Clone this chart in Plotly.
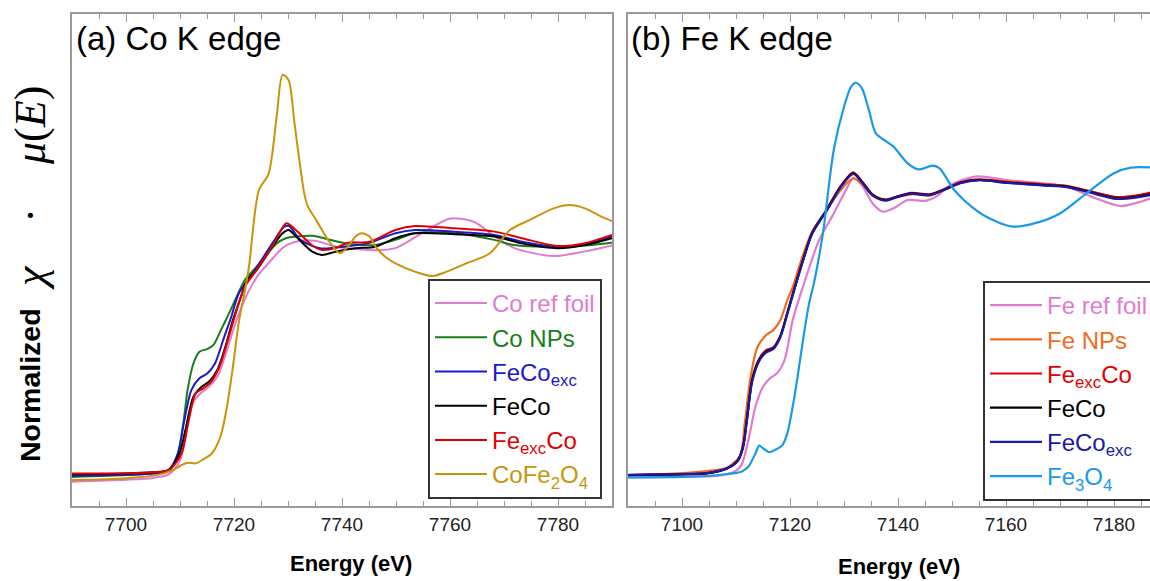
import plotly.graph_objects as go

# ---------------- (a) Co K edge ----------------
co_ref_E = [7690, 7700, 7705, 7708, 7710, 7711, 7712.5, 7714, 7715.4, 7717, 7718.7, 7720.5, 7722.7, 7724.5,
            7726.4, 7729.3, 7732.3, 7735, 7739, 7746, 7750, 7755.7, 7760.1, 7764.5, 7768.2, 7771.8, 7779.2, 7785, 7790]
co_ref_mu = [-0.02, -0.012, -0.004, 0.012, 0.07, 0.18, 0.32, 0.36, 0.385, 0.43, 0.54, 0.67, 0.79, 0.86,
             0.91, 0.98, 1.005, 1.005, 0.98, 0.965, 0.975, 1.05, 1.10, 1.085, 1.025, 0.975, 0.94, 0.96, 0.985]

co_np_E = [7690, 7700, 7705, 7707, 7708.1, 7709.6, 7710.7, 7711.4, 7712.5, 7713.6, 7715.1, 7716.2, 7717.6, 7719.1,
           7720.5, 7722, 7724.2, 7727.9, 7729.5, 7732, 7734.5, 7738.9, 7742, 7746.2, 7750, 7753.5, 7760.8, 7768.2,
           7771.8, 7779.2, 7785, 7790]
co_np_mu = [0.0, 0.008, 0.015, 0.022, 0.035, 0.10, 0.243, 0.37, 0.484, 0.533, 0.545, 0.562, 0.626, 0.697,
            0.767, 0.838, 0.895, 0.994, 1.015, 1.024, 1.026, 1.003, 0.99, 0.987, 1.01, 1.037, 1.037, 1.009,
            0.987, 0.98, 0.985, 0.997]

feco_exc_a_E = [7690, 7700, 7705, 7708, 7709.6, 7710.7, 7712.1, 7713.6, 7715.1, 7716.5, 7718, 7719.5, 7720.9,
                7723.5, 7727.1, 7729.3, 7730.2, 7732.3, 7735.9, 7740.3, 7744.7, 7749.9, 7753.5, 7760.8, 7768.2,
                7773.3, 7779.9, 7785, 7790]
feco_exc_a_mu = [0.005, 0.01, 0.015, 0.03, 0.10, 0.228, 0.37, 0.42, 0.441, 0.484, 0.583, 0.682, 0.782,
                 0.867, 0.994, 1.065, 1.068, 1.009, 0.973, 0.98, 0.994, 1.037, 1.051, 1.044, 1.03,
                 1.001, 0.98, 0.99, 1.023]

feco_a_E = [7690, 7700, 7705, 7708, 7709.9, 7711, 7712.5, 7714, 7715.4, 7716.9, 7718.4, 7719.8, 7721.3, 7722.4,
            7724.2, 7727.1, 7729, 7730.1, 7731.5, 7734.5, 7736.3, 7738.9, 7742.5, 7746.2, 7749.9, 7753.5, 7760.8,
            7768.2, 7773.3, 7779.9, 7785, 7790]
feco_a_mu = [0.012, 0.015, 0.02, 0.03, 0.10, 0.2, 0.342, 0.384, 0.406, 0.455, 0.554, 0.668, 0.767, 0.838,
             0.881, 0.98, 1.037, 1.051, 1.023, 0.959, 0.945, 0.959, 0.973, 0.98, 1.016, 1.037, 1.033,
             1.023, 0.994, 0.973, 0.987, 1.016]

fe_exc_co_a_E = [7690, 7700, 7705, 7708, 7710.3, 7711.4, 7712.9, 7714.3, 7715.8, 7717.3, 7718.7, 7720.5, 7722,
                 7724, 7727.3, 7729.7, 7731.5, 7734.5, 7736.3, 7738.9, 7741.1, 7745, 7749.9, 7753.5, 7760.8,
                 7768.2, 7773.3, 7779.9, 7785, 7790]
fe_exc_co_a_mu = [0.015, 0.016, 0.02, 0.03, 0.10, 0.214, 0.356, 0.377, 0.406, 0.469, 0.569, 0.711, 0.81,
                  0.875, 0.99, 1.08, 1.05, 0.985, 0.966, 0.975, 0.997, 1.0, 1.051, 1.068, 1.058,
                  1.044, 1.016, 0.983, 0.995, 1.03]

cofe2o4_E = [7690, 7700, 7705.9, 7708.8, 7710.3, 7711.4, 7712.9, 7714.3, 7715.8, 7716.5, 7717.6, 7718.7, 7719.8,
             7720.9, 7722, 7722.8, 7724.6, 7726.4, 7727.9, 7729.0, 7730.1, 7731.2, 7733.0, 7733.7, 7735.2, 7737.4,
             7739.6, 7741.1, 7742.5, 7743.6, 7745.1, 7746.2, 7748.0, 7749.9, 7753.5, 7756.8, 7759.4, 7763.0,
             7767.4, 7771.1, 7774.8, 7779.2, 7782.1, 7785.0, 7788.0, 7790]
cofe2o4_mu = [-0.013, -0.005, 0.009, 0.03, 0.051, 0.061, 0.058, 0.075, 0.098, 0.12, 0.18, 0.30, 0.47,
              0.66, 0.79, 0.90, 1.22, 1.29, 1.533, 1.711, 1.689, 1.506, 1.208, 1.15, 1.094, 1.009,
              0.952, 0.98, 1.023, 1.037, 1.023, 0.98, 0.937, 0.909, 0.874, 0.855, 0.874, 0.909,
              0.952, 1.051, 1.094, 1.143, 1.157, 1.143, 1.108, 1.089]

# ---------------- (b) Fe K edge ----------------
fe_ref_E = [7090, 7100, 7106.4, 7109.7, 7111, 7112.3, 7113.6, 7115, 7116.3, 7117.6, 7119, 7120.5, 7122.2, 7125.4,
            7128.1, 7130.7, 7131.7, 7133.3, 7135.3, 7137.2, 7139.2, 7141.8, 7145.1, 7147.1, 7149.7, 7154.3,
            7160.2, 7166.8, 7171.3, 7176.6, 7181.2, 7185.1, 7187.6]
fe_ref_mu = [-0.005, -0.002, 0.0, 0.015, 0.038, 0.126, 0.242, 0.312, 0.342, 0.359, 0.406, 0.545, 0.65, 0.825,
             0.918, 1.012, 1.041, 1.017, 0.953, 0.924, 0.936, 0.965, 0.962, 0.977, 1.017, 1.047,
             1.035, 1.023, 1.012, 0.971, 0.944, 0.96, 0.977]

fe_np_E = [7090, 7100, 7105, 7108.4, 7110.7, 7111.7, 7112.7, 7114, 7115.6, 7116.9, 7118.2, 7119.5, 7120.5, 7122,
           7124.1, 7126.8, 7129.4, 7131.7, 7133.3, 7135.3, 7137.6, 7139.9, 7142.5, 7145.8, 7148.4, 7151.7,
           7154.9, 7160.2, 7166.8, 7171.3, 7175.3, 7180.5, 7184.5, 7187.6]
fe_np_mu = [0.002, 0.01, 0.018, 0.03, 0.07, 0.196, 0.347, 0.452, 0.493, 0.51, 0.545, 0.615, 0.66, 0.75,
            0.855, 0.93, 1.0, 1.041, 1.022, 0.98, 0.965, 0.975, 0.985, 0.98, 1.0, 1.026,
            1.035, 1.03, 1.02, 1.014, 0.996, 0.975, 0.98, 0.992]

fe_exc_co_b_E = [7090, 7100, 7104.5, 7108.4, 7110.4, 7111.3, 7112, 7113, 7114.3, 7115.6, 7116.9, 7118.2, 7119.5,
                 7120.9, 7122.5, 7124.1, 7126.8, 7129.4, 7131.7, 7133.3, 7135.3, 7137.6, 7139.9, 7142.5, 7145.8,
                 7148.4, 7151.7, 7154.9, 7160.2, 7166.8, 7171.3, 7175.3, 7180.5, 7184.5, 7187.6]
fe_exc_co_b_mu = [0.003, 0.006, 0.009, 0.027, 0.056, 0.102, 0.196, 0.34, 0.41, 0.44, 0.45, 0.49, 0.571,
                  0.662, 0.762, 0.85, 0.932, 1.014, 1.062, 1.031, 0.985, 0.967, 0.978, 0.99, 0.985,
                  1.002, 1.028, 1.037, 1.028, 1.02, 1.014, 0.997, 0.975, 0.982, 0.995]

feco_b_E = [7090, 7100, 7104.5, 7108.4, 7110.4, 7111.3, 7112, 7113, 7114.3, 7115.6, 7116.9, 7118.2, 7119.5,
            7120.9, 7122.5, 7124.1, 7126.8, 7129.4, 7131.7, 7133.3, 7135.3, 7137.6, 7139.9, 7142.5, 7145.8,
            7148.4, 7151.7, 7154.9, 7160.2, 7166.8, 7171.3, 7175.3, 7180.5, 7184.5, 7187.6]
feco_b_mu = [0.003, 0.006, 0.009, 0.027, 0.056, 0.102, 0.196, 0.336, 0.406, 0.435, 0.446, 0.487, 0.569,
             0.66, 0.76, 0.849, 0.93, 1.012, 1.058, 1.029, 0.983, 0.965, 0.977, 0.988, 0.983,
             1.0, 1.026, 1.035, 1.026, 1.017, 1.012, 0.994, 0.971, 0.977, 0.988]

feco_exc_b_E = [7090, 7100, 7104.5, 7108.4, 7110.4, 7111.3, 7112, 7113, 7114.3, 7115.6, 7116.9, 7118.2, 7119.5,
                7120.9, 7122.5, 7124.1, 7126.8, 7129.4, 7131.7, 7133.3, 7135.3, 7137.6, 7139.9, 7142.5, 7145.8,
                7148.4, 7151.7, 7154.9, 7160.2, 7166.8, 7171.3, 7175.3, 7180.5, 7184.5, 7187.6]
feco_exc_b_mu = [0.004, 0.007, 0.01, 0.027, 0.055, 0.1, 0.19, 0.33, 0.402, 0.432, 0.444, 0.485, 0.566,
                 0.658, 0.758, 0.847, 0.928, 1.01, 1.056, 1.027, 0.981, 0.963, 0.976, 0.987, 0.982,
                 0.999, 1.025, 1.034, 1.025, 1.016, 1.01, 0.992, 0.969, 0.975, 0.986]

fe3o4_E = [7090, 7100, 7104.5, 7108, 7111, 7112.3, 7113.6, 7114.3, 7115, 7116.1, 7117.2, 7118.6, 7119.5, 7120.5,
           7121.5, 7122.5, 7123.5, 7124.5, 7126.1, 7128.1, 7130, 7131.3, 7132.2, 7133.3, 7134.6, 7135.9, 7137.9,
           7139.2, 7141.8, 7143.8, 7146.4, 7147.7, 7150.4, 7153.6, 7156.9, 7161.2, 7165.4, 7170, 7175.3, 7179.9,
           7183.1, 7187.6]
fe3o4_mu = [-0.005, -0.003, 0.0, 0.006, 0.015, 0.033, 0.079, 0.106, 0.097, 0.083, 0.091, 0.108, 0.149, 0.242,
            0.359, 0.487, 0.6, 0.68, 0.849, 1.14, 1.291, 1.361, 1.375, 1.356, 1.28, 1.198, 1.169,
            1.151, 1.093, 1.072, 1.085, 1.076, 1.0, 0.942, 0.901, 0.872, 0.884, 0.918, 0.994, 1.058,
            1.078, 1.078]

PINK = "#E07CCF"
GREEN = "#177E17"
BLUE_A = "#1A1ACC"
BLUE_B = "#1A1AA6"
BLACK = "#000000"
RED = "#E00000"
GOLD = "#C8940A"
ORANGE = "#F26B1D"
LBLUE = "#1A9AE6"

def lab(text, color):
    return f'<span style="color:{color}">{text}</span>'

fig = go.Figure()

series_a = [
    (co_ref_E, co_ref_mu, PINK, "Co ref foil"),
    (co_np_E, co_np_mu, GREEN, "Co NPs"),
    (feco_exc_a_E, feco_exc_a_mu, BLUE_A, "FeCo<sub>exc</sub>"),
    (feco_a_E, feco_a_mu, BLACK, "FeCo"),
    (fe_exc_co_a_E, fe_exc_co_a_mu, RED, "Fe<sub>exc</sub>Co"),
    (cofe2o4_E, cofe2o4_mu, GOLD, "CoFe<sub>2</sub>O<sub>4</sub>"),
]
for E, mu, c, name in series_a:
    fig.add_trace(go.Scatter(x=E, y=mu, mode="lines", name=lab(name, c),
                             line=dict(color=c, width=2, shape="spline", smoothing=0.8),
                             xaxis="x", yaxis="y", legend="legend"))

series_b = [
    (fe_ref_E, fe_ref_mu, PINK, "Fe ref foil"),
    (fe_np_E, fe_np_mu, ORANGE, "Fe NPs"),
    (fe_exc_co_b_E, fe_exc_co_b_mu, RED, "Fe<sub>exc</sub>Co"),
    (feco_b_E, feco_b_mu, BLACK, "FeCo"),
    (feco_exc_b_E, feco_exc_b_mu, BLUE_B, "FeCo<sub>exc</sub>"),
    (fe3o4_E, fe3o4_mu, LBLUE, "Fe<sub>3</sub>O<sub>4</sub>"),
]
for E, mu, c, name in series_b:
    fig.add_trace(go.Scatter(x=E, y=mu, mode="lines", name=lab(name, c),
                             line=dict(color=c, width=2.2, shape="spline", smoothing=0.8),
                             xaxis="x2", yaxis="y2", legend="legend2"))

W, H = 1150, 581
ML, MT, MB = 72, 14, 75
PW = W - ML
PH = H - MT - MB

def px(x):
    return (x - ML) / PW

def py(y):
    return (H - MB - y) / PH

FRAME = "#9a9a9a"
FONT = "Arial, Liberation Sans, sans-serif"

xcommon = dict(showgrid=False, zeroline=False, showline=True, linecolor=FRAME, linewidth=1.5,
               mirror="ticks", ticks="inside", ticklen=8, tickwidth=1.2, tickcolor=FRAME, dtick=20,
               tickfont=dict(family=FONT, size=19, color="#222"),
               minor=dict(dtick=5, ticks="inside", ticklen=5, tickwidth=1.2, tickcolor=FRAME))

legend_common = dict(xanchor="left", yanchor="top", bgcolor="white", bordercolor="#333", borderwidth=2,
                     font=dict(family=FONT, size=24), tracegroupgap=0, itemwidth=52)

fig.update_layout(
    width=W, height=H,
    margin=dict(l=ML, r=0, t=MT, b=MB, autoexpand=False),
    paper_bgcolor="white", plot_bgcolor="white",
    font=dict(family=FONT, color="#000"),
    xaxis=dict(domain=[0, px(612)], range=[7690, 7790], anchor="y", tick0=7700, **xcommon),
    yaxis=dict(domain=[0, 1], range=[-0.1234, 1.970], anchor="x", showgrid=False, zeroline=False,
               showline=True, linecolor=FRAME, linewidth=1.5, mirror=True, ticks="", showticklabels=False),
    xaxis2=dict(domain=[px(628), 1], range=[7090, 7090 + 522 / 5.4], anchor="y2", tick0=7100, **xcommon),
    yaxis2=dict(domain=[0, 1], range=[-0.1049, 1.6154], anchor="x2", showgrid=False, zeroline=False,
                showline=True, linecolor=FRAME, linewidth=1.5, mirror=False, ticks="", showticklabels=False),
    legend=dict(x=px(428), y=py(279), **legend_common),
    legend2=dict(x=px(983), y=py(281), **legend_common),
    showlegend=True,
)

NB = "\u00a0"
ann = [
    dict(text="(a) Co K edge", x=px(74), y=py(38), xanchor="left", yanchor="middle",
         font=dict(family=FONT, size=33, color="#000")),
    dict(text="(b) Fe K edge", x=px(629), y=py(38), xanchor="left", yanchor="middle",
         font=dict(family=FONT, size=33, color="#000")),
    dict(text="<b>Energy (eV)</b>", x=px(351), y=py(563), xanchor="center", yanchor="middle",
         font=dict(family=FONT, size=22, color="#000")),
    dict(text="<b>Energy (eV)</b>", x=px(899), y=py(566), xanchor="center", yanchor="middle",
         font=dict(family=FONT, size=22, color="#000")),
    dict(text="<b>Normalized</b>", x=px(30), y=py(306), xanchor="center", yanchor="top", textangle=-90,
         font=dict(family=FONT, size=28.5, color="#000")),
    dict(text=f"<i>χ</i>{NB*4}·{NB*4}<i>μ</i>(<i>E</i>)", x=px(30), y=py(292), xanchor="center",
         yanchor="bottom", textangle=-90,
         font=dict(family="Liberation Serif, DejaVu Serif, serif", size=44, color="#000")),
]
for a in ann:
    a.update(xref="paper", yref="paper", showarrow=False)
fig.update_layout(annotations=ann)

fig.write_html("out.html", config={"displayModeBar": False},
               post_script="document.body.style.margin='0';document.body.style.overflow='hidden';")
